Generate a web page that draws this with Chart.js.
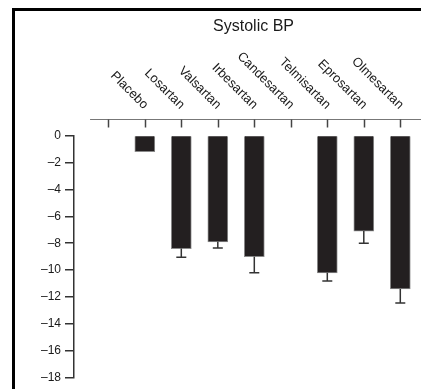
<!DOCTYPE html>
<html>
  <head>
    <title>Systolic BP</title>
    <script src="https://cdn.jsdelivr.net/npm/chart.js"></script>
    <style>
      body {
        margin: 0;
        background: #fff;
      }
      .frame {
        position: relative;
        width: 421px;
        height: 389px;
        overflow: hidden;
      }
      .frame::before {
        content: "";
        position: absolute;
        left: 12px;
        top: 8px;
        right: -10px;
        bottom: -10px;
        border-left: 3px solid #000;
        border-top: 3px solid #000;
        z-index: 1;
        pointer-events: none;
      }
      canvas {
        position: absolute;
        left: 0;
        top: 0;
      }
    </style>
  </head>
  <body>
    <div class="frame">
      <canvas id="graph" width="421" height="389"></canvas>
    </div>
    <script>
      // drugs sit on ticks 1..8, tick 0 is left empty as in the figure
      const drugs = [
        "Placebo",
        "Losartan",
        "Valsartan",
        "Irbesartan",
        "Candesartan",
        "Telmisartan",
        "Eprosartan",
        "Olmesartan",
      ];
      const sbpChange = [-1.2, -8.4, -7.9, -9.0, null, -10.2, -7.1, -11.4];
      const sbpError = [0, 0.65, 0.45, 1.2, null, 0.6, 0.9, 1.05];
      const yTicks = [0, -2, -4, -6, -8, -10, -12, -14, -16, -18];
      const title = "Systolic BP";

      const FONT = "'Liberation Sans', Arial, sans-serif";

      const topAxis = {
        id: "topAxis",
        afterDraw(chart) {
          const { ctx } = chart;
          const x = chart.scales.x;
          const lineY = 119.5;
          const lineStart = x.getPixelForValue(-0.5);
          ctx.save();
          ctx.strokeStyle = "#777";
          ctx.lineWidth = 1;
          ctx.beginPath();
          ctx.moveTo(lineStart, lineY);
          ctx.lineTo(chart.width, lineY);
          ctx.stroke();

          ctx.strokeStyle = "#444";
          ctx.lineWidth = 1.5;
          for (let i = 0; i <= drugs.length; i++) {
            const px = Math.round(x.getPixelForValue(i)) + 0.5;
            ctx.beginPath();
            ctx.moveTo(px, lineY);
            ctx.lineTo(px, lineY + 8);
            ctx.stroke();
          }

          ctx.fillStyle = "#1a1a1a";
          ctx.font = "13px " + FONT;
          ctx.textAlign = "right";
          ctx.textBaseline = "middle";
          drugs.forEach((name, i) => {
            const px = x.getPixelForValue(i + 1);
            ctx.save();
            ctx.translate(px + 1, 107);
            ctx.rotate(Math.PI / 4);
            ctx.fillText(name, 0, 0);
            ctx.restore();
          });

          // title centred over the top axis line
          ctx.font = "16px " + FONT;
          ctx.textAlign = "center";
          ctx.fillText(title, (lineStart + chart.width) / 2 - 2, 26.5);
          ctx.restore();
        },
      };

      const errorBars = {
        id: "errorBars",
        afterDatasetsDraw(chart) {
          const { ctx } = chart;
          const y = chart.scales.y;
          const meta = chart.getDatasetMeta(0);
          ctx.save();
          ctx.strokeStyle = "#333";
          ctx.lineWidth = 1.5;
          meta.data.forEach((bar, i) => {
            const v = sbpChange[i];
            const err = sbpError[i];
            if (v === null || !err) return;
            const top = y.getPixelForValue(v);
            const end = y.getPixelForValue(v - err);
            ctx.beginPath();
            ctx.moveTo(bar.x, top);
            ctx.lineTo(bar.x, end);
            ctx.moveTo(bar.x - 5, end);
            ctx.lineTo(bar.x + 5, end);
            ctx.stroke();
          });
          ctx.restore();
        },
      };

      const ctx = document.getElementById("graph").getContext("2d");
      new Chart(ctx, {
        type: "bar",
        data: {
          datasets: [
            {
              data: sbpChange.map((v, i) => ({ x: i + 1, y: v })),
              backgroundColor: "#231f20",
              borderColor: "#8a8a8a",
              borderWidth: 1,
              barThickness: 20,
            },
          ],
        },
        options: {
          responsive: false,
          animation: false,
          layout: {
            padding: { left: 12, right: 3, top: 135.5, bottom: 7 },
          },
          plugins: {
            legend: { display: false },
            tooltip: { enabled: false },
          },
          scales: {
            x: {
              type: "linear",
              min: -0.94,
              max: 8.485,
              offset: false,
              display: false,
            },
            y: {
              min: -18,
              max: 0,
              afterFit(scale) {
                scale.width = 62;
              },
              afterBuildTicks(scale) {
                scale.ticks = yTicks.map((v) => ({ value: v }));
              },
              border: { display: true, color: "#333", width: 1.5 },
              grid: {
                drawOnChartArea: false,
                color: "#333",
                tickLength: 9,
                lineWidth: 1.5,
              },
              ticks: {
                padding: 4,
                color: "#1a1a1a",
                font: { family: FONT, size: 12 },
                callback: (v) => (v === 0 ? "0" : "\u2013" + Math.abs(v)),
              },
            },
          },
        },
        plugins: [topAxis, errorBars],
      });
    </script>
  </body>
</html>
